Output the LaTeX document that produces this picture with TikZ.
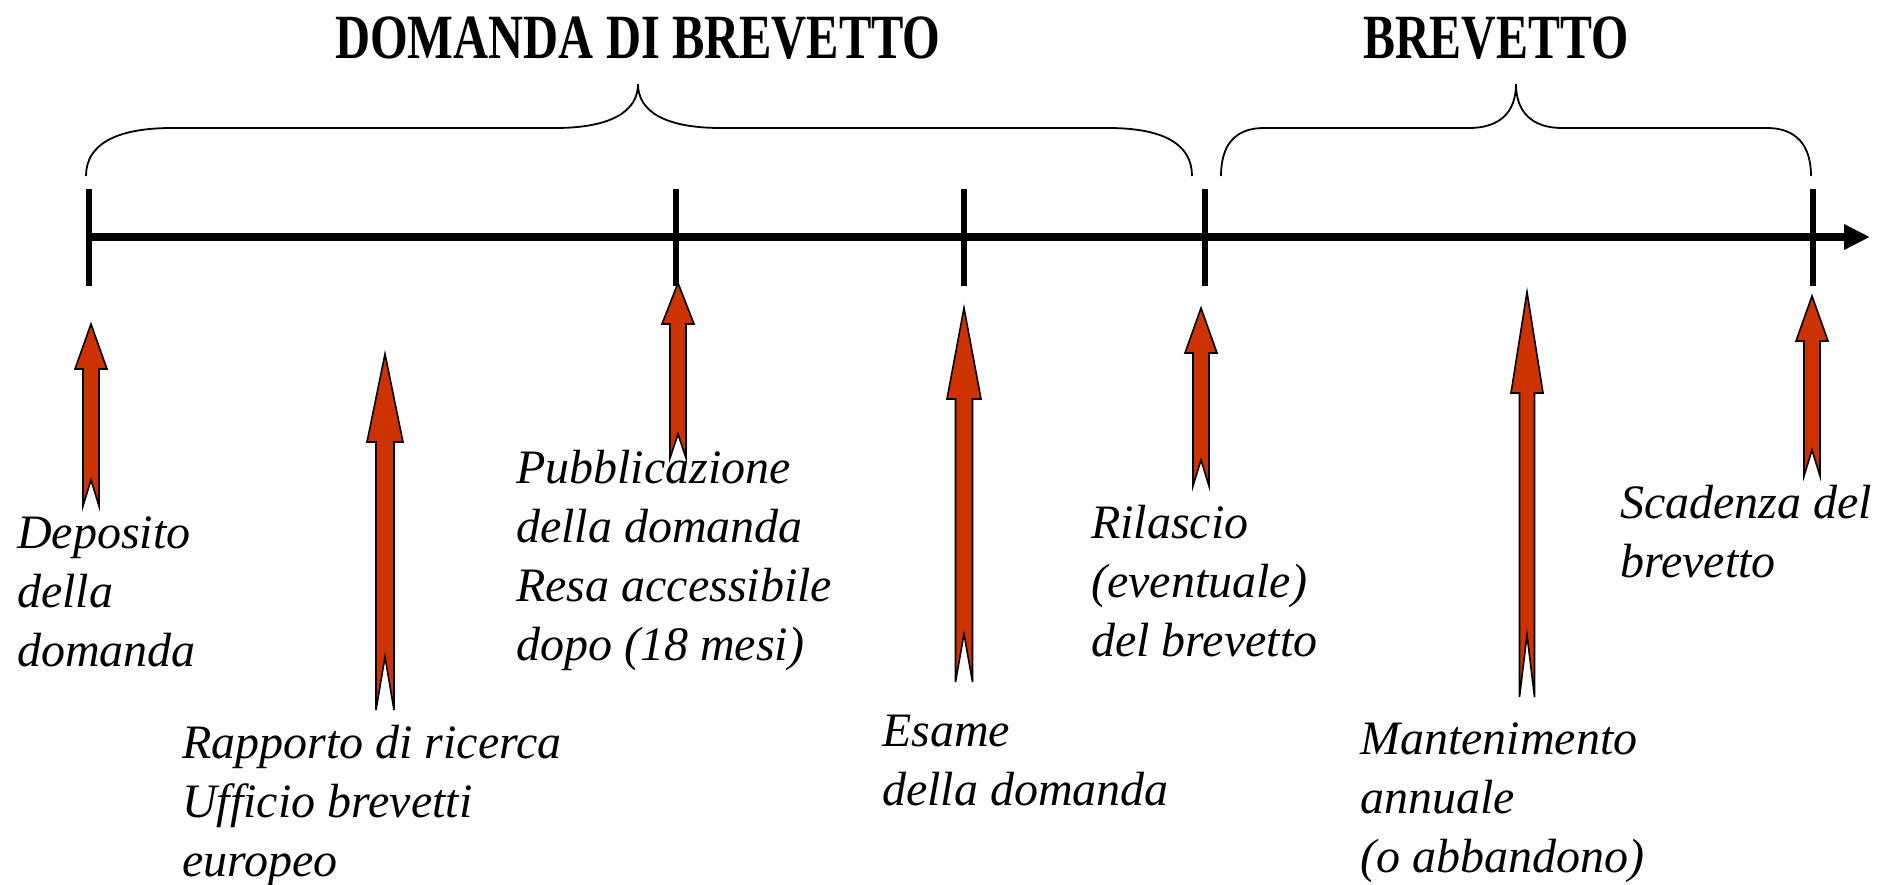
\documentclass[tikz,border=0pt]{standalone}
\usepackage{fontspec}
\usepackage{graphicx}
\setmainfont{Liberation Serif}
\usetikzlibrary{arrows.meta}
\definecolor{arrowred}{HTML}{CC3300}
\newcommand\tlarrow[8]{% x, tip, tail, headlen, notch, half head width, half shaft width, name
  \draw[evarrow] (#1,#2) coordinate (#8)
    -- ({#1+#6},{#2+#4}) -- ({#1+#7},{#2+#4}) -- ({#1+#7},#3)
    -- (#1,{#3-#5}) -- ({#1-#7},#3) -- ({#1-#7},{#2+#4})
    -- ({#1-#6},{#2+#4}) -- cycle;}
\begin{document}
\begin{tikzpicture}[x=1pt,y=-1pt,
  evarrow/.style={draw=black,line width=1.6pt,fill=arrowred,line join=miter},
  tick/.style={line width=6pt},
  brace/.style={line width=1.8pt},
  title/.style={font=\fontsize{63}{70}\selectfont\bfseries,inner sep=0pt},
  lbl/.style={font=\fontsize{48}{59}\selectfont\itshape,align=left,anchor=west,inner sep=0pt}]
\useasboundingbox (0,0) rectangle (1881,885);
% titles
\node[title] (t1) at (638,38) {\scalebox{0.77}[1]{DOMANDA DI BREVETTO}};
\node[title] (t2) at (1496,38) {\scalebox{0.76}[1]{BREVETTO}};
% braces
\draw[brace] (86,176) .. controls (86,145) and (115,128) .. (172,128)
  -- (555,128) .. controls (610,128) and (638,112) .. (638,84)
  .. controls (638,112) and (666,128) .. (721,128)
  -- (1108,128) .. controls (1165,128) and (1192,145) .. (1192,176);
\draw[brace] (1221,176) .. controls (1221,145) and (1235,128) .. (1264,128)
  -- (1469,128) .. controls (1500,128) and (1516,112) .. (1516,84)
  .. controls (1516,112) and (1532,128) .. (1562,128)
  -- (1767,128) .. controls (1796,128) and (1811,145) .. (1811,176);
% timeline
\coordinate (s) at (89,237);
\coordinate (e) at (1870,237);
\draw[line width=7.5pt,-{Triangle[length=26pt,width=24pt]}] (s) -- (e);
\foreach \x/\n in {89/k1,676/k2,964/k3,1205/k4,1813/k5}{
  \draw[tick] (\x,189) coordinate (\n a) -- (\x,286) coordinate (\n b);}
% arrows
\tlarrow{91}{324}{506}{45}{26}{16}{8}{a1}
\tlarrow{385}{354}{710}{88}{53}{18}{9}{a2}
\tlarrow{678}{283}{458}{41}{24}{16}{8}{a3}
\tlarrow{964}{308}{682}{91}{48}{17}{8.5}{a4}
\tlarrow{1201}{308}{486}{45}{26}{16}{8}{a5}
\tlarrow{1527}{292}{697}{101}{62}{16}{7.5}{a6}
\tlarrow{1812}{296}{476}{45}{26}{16}{8}{a7}
% labels
\node[lbl] (l1) at (17,592) {Deposito\\della\\domanda};
\node[lbl] (l2) at (182,806) {Rapporto di ricerca\\Ufficio brevetti\\europeo};
\node[lbl] (l3) at (516,560) {Pubblicazione\\della domanda\\Resa accessibile\\dopo (18 mesi)};
\node[lbl] (l4) at (882,761) {Esame\\della domanda};
\node[lbl] (l5) at (1091,581) {Rilascio\\(eventuale)\\del brevetto};
\node[lbl] (l6) at (1360,803) {Mantenimento\\annuale\\(o abbandono)};
\node[lbl] (l7) at (1620,532) {Scadenza del\\brevetto};
\end{tikzpicture}
\end{document}
